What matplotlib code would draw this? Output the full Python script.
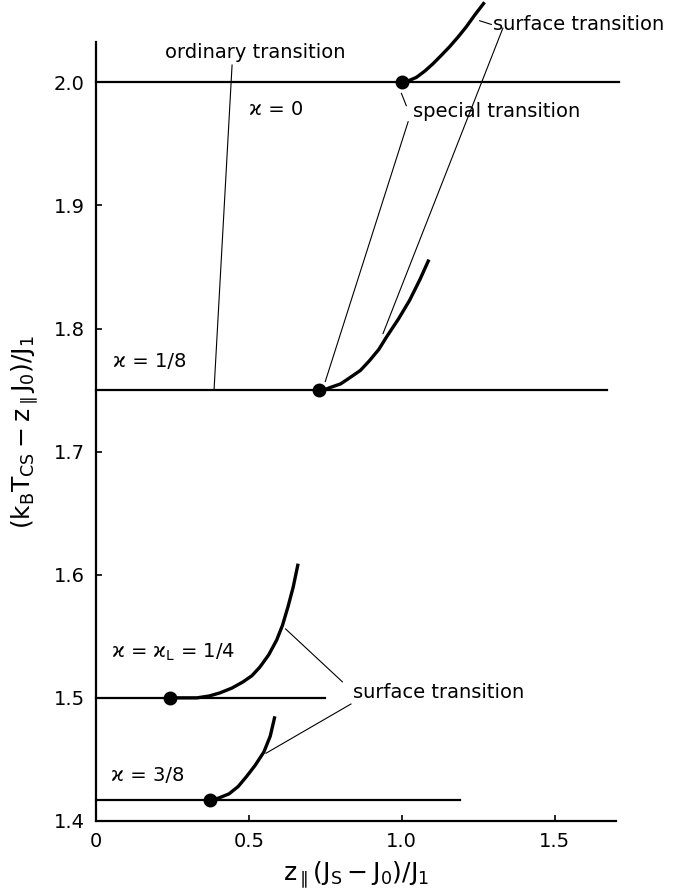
import matplotlib
matplotlib.use("Agg")
import matplotlib.pyplot as plt

plt.rcParams["font.family"] = ["DejaVu Sans"]
plt.rcParams["mathtext.fontset"] = "dejavusans"
plt.rcParams["mathtext.default"] = "regular"

# horizontal (ordinary transition) lines: level, x end
kappa_names = ["ϰ = 0", "ϰ = 1/8", "ϰ = ϰ$_L$ = 1/4", "ϰ = 3/8"]
levels = [2.0, 1.75, 1.5, 1.417]
line_ends = [1.71, 1.67, 0.75, 1.19]

# special transition points
special_x = [1.0, 0.729, 0.242, 0.372]

# surface transition curves
surf0_x = [1.0, 1.02, 1.048, 1.075, 1.102, 1.13, 1.157, 1.185, 1.211, 1.24, 1.271]
surf0_y = [2.0, 2.001, 2.004, 2.009, 2.015, 2.022, 2.029, 2.037, 2.045, 2.055, 2.065]
surf1_x = [0.729, 0.75, 0.765, 0.80, 0.83, 0.865, 0.895, 0.925, 0.95, 0.99, 1.026, 1.06, 1.089]
surf1_y = [1.75, 1.7505, 1.752, 1.755, 1.760, 1.766, 1.774, 1.783, 1.793, 1.808, 1.823, 1.840, 1.856]
surf2_x = [0.242, 0.33, 0.37, 0.405, 0.445, 0.481, 0.51, 0.536, 0.565, 0.591, 0.61, 0.628, 0.645, 0.661]
surf2_y = [1.5, 1.5, 1.5015, 1.504, 1.508, 1.513, 1.518, 1.525, 1.535, 1.547, 1.559, 1.574, 1.590, 1.609]
surf3_x = [0.372, 0.40, 0.435, 0.465, 0.492, 0.52, 0.549, 0.57, 0.585]
surf3_y = [1.417, 1.4185, 1.422, 1.428, 1.436, 1.445, 1.456, 1.469, 1.485]

fig = plt.figure(figsize=(6.91, 8.94), dpi=100)
ax = fig.add_axes([0.139, 0.0817, 0.752, 0.871])

for lev, xe in zip(levels, line_ends):
    ax.plot([0, xe], [lev, lev], color="black", lw=1.6, clip_on=False)

for sx, sy in [(surf0_x, surf0_y), (surf1_x, surf1_y), (surf2_x, surf2_y), (surf3_x, surf3_y)]:
    ax.plot(sx, sy, color="black", lw=2.4, clip_on=False,
            solid_capstyle="butt", solid_joinstyle="round")

ax.plot(special_x, levels, "o", color="black", ms=9, clip_on=False)

# leader lines
thin = dict(color="black", lw=0.8, clip_on=False)
ax.plot([0.445, 0.386], [2.014, 1.75], **thin)
ax.plot([1.021, 0.75], [1.968, 1.757], **thin)
ax.plot([1.331, 0.939], [2.044, 1.796], **thin)
ax.plot([0.999, 1.015], [1.991, 1.981], **thin)
ax.plot([1.255, 1.293], [2.050, 2.047], **thin)
ax.plot([0.806, 0.620], [1.513, 1.556], **thin)
ax.plot([0.834, 0.556], [1.495, 1.455], **thin)

fs = 14
ax.text(0.226, 2.024, "ordinary transition", fontsize=fs, va="center", ha="left")
ax.text(0.50, 1.978, kappa_names[0], fontsize=fs, va="center", ha="left")
ax.text(1.036, 1.976, "special transition", fontsize=fs, va="center", ha="left")
ax.text(1.30, 2.047, "surface transition", fontsize=fs, va="center", ha="left", clip_on=False)
ax.text(0.056, 1.773, kappa_names[1], fontsize=fs, va="center", ha="left")
ax.text(0.05, 1.537, kappa_names[2], fontsize=fs, va="center", ha="left")
ax.text(0.841, 1.504, "surface transition", fontsize=fs, va="center", ha="left")
ax.text(0.05, 1.437, kappa_names[3], fontsize=fs, va="center", ha="left")

ax.set_xlim(0, 1.7)
ax.set_ylim(1.4, 2.0325)
ax.set_xticks([0, 0.5, 1.0, 1.5])
ax.set_xticklabels(["0", "0.5", "1.0", "1.5"])
ax.set_yticks([1.4, 1.5, 1.6, 1.7, 1.8, 1.9, 2.0])
ax.set_yticklabels(["1.4", "1.5", "1.6", "1.7", "1.8", "1.9", "2.0"])
ax.tick_params(direction="in", length=4, width=1.2, labelsize=14, pad=8)

for side in ["top", "right"]:
    ax.spines[side].set_visible(False)
for side in ["left", "bottom"]:
    ax.spines[side].set_linewidth(1.6)

ax.set_xlabel(r"$z_{\parallel}(J_S - J_0)/J_1$", fontsize=18, labelpad=6)
ax.set_ylabel(r"$(k_B T_{CS} - z_{\parallel} J_0)/J_1$", fontsize=18, labelpad=10)

fig.savefig("out.png", dpi=100)
